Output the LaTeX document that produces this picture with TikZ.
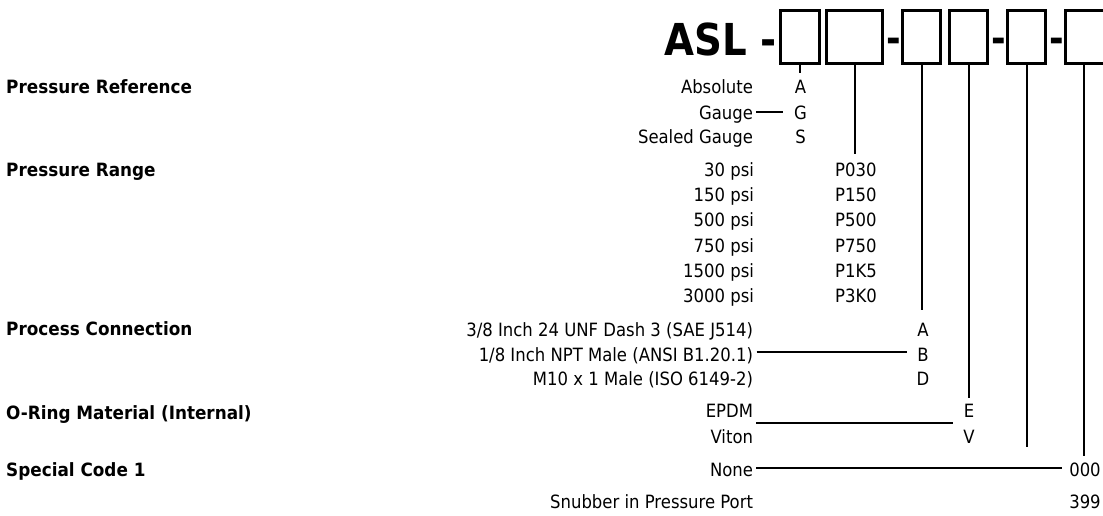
\documentclass[tikz,border=0pt]{standalone}
\usepackage{fontspec}
\newfontfamily\regfam{DejaVu Sans}[FakeStretch=0.9]
\newfontfamily\bldfam{DejaVu Sans}[FakeStretch=0.92]
\newfontfamily\aslfam{DejaVu Sans}[FakeStretch=0.88]
\newcommand\regf{\regfam\fontsize{18.3}{22}\selectfont}
\newcommand\bldf{\bldfam\bfseries\fontsize{18.3}{22}\selectfont}
\newcommand\aslf{\aslfam\bfseries\fontsize{44}{50}\selectfont}
\newcommand\dshf{\aslfam\bfseries\fontsize{40}{44}\selectfont}
\tikzset{
  lbl/.style={font=\regf, anchor=base east, inner sep=0pt, outer sep=0pt},
  cat/.style={font=\bldf, anchor=base west, inner sep=0pt},
  code/.style={font=\regf, anchor=base, inner sep=0pt},
  pcode/.style={font=\regf, anchor=base west, inner sep=0pt},
  slot/.style={draw, line width=3pt, inner sep=0pt, minimum height=53pt},
  conn/.style={line width=2pt},
  sepdash/.style={font=\dshf, anchor=base, inner sep=0pt}
}
\begin{document}
\begin{tikzpicture}[x=1pt, y=-1pt]
\useasboundingbox (0,0) rectangle (1103,515);

% title and slots
\node[font=\aslf, anchor=base west, inner sep=0pt] (asl) at (664,55) {ASL -};
\node[slot, minimum width=39pt] (b1) at (800,37) {};
\node[slot, minimum width=56pt] (b2) at (854.5,37) {};
\node[sepdash] (d1) at (894,52) {-};
\node[slot, minimum width=38pt] (b3) at (921.5,37) {};
\node[slot, minimum width=38pt] (b4) at (968.5,37) {};
\node[sepdash] (d2) at (998.5,52) {-};
\node[slot, minimum width=38pt] (b5) at (1026.5,37) {};
\node[sepdash] (d3) at (1056.5,52) {-};
\node[slot, minimum width=40pt] (b6) at (1085.5,37) {};

% categories
\node[cat] (cRef) at (6,93.3) {Pressure Reference};
\node[cat] (cRange) at (6,176.7) {Pressure Range};
\node[cat] (cProc) at (6,335.3) {Process Connection};
\node[cat] (cRing) at (6,419) {O-Ring Material (Internal)};
\node[cat] (cSpec) at (6,476.7) {Special Code 1};

% option labels
\node[lbl] (lAbs) at (753,93.3) {Absolute};
\node[lbl] (lGau) at (753,119) {Gauge};
\node[lbl] (lSea) at (753,143.3) {Sealed Gauge};
\node[lbl] (l30) at (754,176.7) {30 psi};
\node[lbl] (l150) at (754,201.7) {150 psi};
\node[lbl] (l500) at (754,226.7) {500 psi};
\node[lbl] (l750) at (754,252) {750 psi};
\node[lbl] (l1500) at (754,277.2) {1500 psi};
\node[lbl] (l3000) at (754,302.3) {3000 psi};
\node[lbl] (lA) at (753,336) {3/8 Inch 24 UNF Dash 3 (SAE J514)};
\node[lbl] (lB) at (753,361) {1/8 Inch NPT Male (ANSI B1.20.1)};
\node[lbl] (lD) at (753,385.5) {M10 x 1 Male (ISO 6149-2)};
\node[lbl] (lE) at (753,417.7) {EPDM};
\node[lbl] (lV) at (753,443.3) {Viton};
\node[lbl] (lNone) at (753,476) {None};
\node[lbl] (lSnub) at (753,508.3) {Snubber in Pressure Port};

% codes
\node[code] (kA) at (800.5,93.3) {A};
\node[code] (kG) at (800.5,119) {G};
\node[code] (kS) at (800.5,143.3) {S};
\node[pcode] (p030) at (835,176.7) {P030};
\node[pcode] (p150) at (835,201.7) {P150};
\node[pcode] (p500) at (835,226.7) {P500};
\node[pcode] (p750) at (835,252) {P750};
\node[pcode] (p1k5) at (835,277.2) {P1K5};
\node[pcode] (p3k0) at (835,302.3) {P3K0};
\node[code] (qA) at (923,336) {A};
\node[code] (qB) at (923,361) {B};
\node[code] (qD) at (923,385.5) {D};
\node[code] (rE) at (969,417.7) {E};
\node[code] (rV) at (969,443.3) {V};
\node[code] (s000) at (1085,476) {000};
\node[code] (s399) at (1085,508.3) {399};

% connector ends
\coordinate (e1) at (800,73);
\coordinate (e2) at (854.5,154);
\coordinate (e3) at (921.5,310);
\coordinate (e4) at (968.5,398);
\coordinate (e5) at (1026.5,447);
\coordinate (e6) at (1084,456);
\coordinate (gEnd) at (783,112);
\coordinate (bEnd) at (906.7,351.7);
\coordinate (eEnd) at (952.7,422.7);
\coordinate (nEnd) at (1061.7,468.3);

% vertical connectors
\draw[conn] (b1.south) -- (e1);
\draw[conn] (b2.south) -- (e2);
\draw[conn] (b3.south) -- (e3);
\draw[conn] (b4.south) -- (e4);
\draw[conn] (b5.south) -- (e5);
\draw[conn] ([xshift=-1.5pt]b6.south) -- (e6);

% horizontal connectors
\draw[conn] ([xshift=3pt,yshift=7pt]lGau.base east) -- (gEnd);
\draw[conn] ([xshift=3.5pt,yshift=9.3pt]lB.base east) -- (bEnd);
\draw[conn] ([xshift=3pt,yshift=-5pt]lE.base east) -- (eEnd);
\draw[conn] ([xshift=3pt,yshift=7.7pt]lNone.base east) -- (nEnd);
\end{tikzpicture}
\end{document}
